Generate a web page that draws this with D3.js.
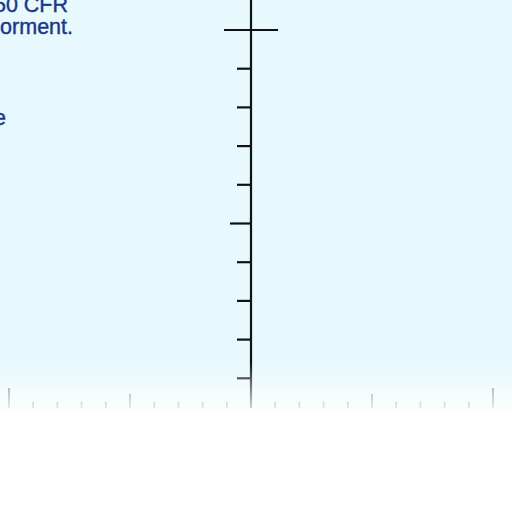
<!DOCTYPE html>
<html><head><meta charset="utf-8">
<script src="https://cdn.jsdelivr.net/npm/d3@7"></script>
<style>html,body{margin:0;padding:0;background:#fff;overflow:hidden}svg{display:block}</style>
</head><body>
<script>
// Data
const yTicks = [1,2,3,4,5,6,7,8,9,10];
const xTicks = d3.range(-10, 11);
const textLines = [
  {text: "50 CFR", right: 68, base: 12},
  {text: "orment.", right: 73, base: 34},
  {text: "e", right: 6, base: 125}
];

const W = 512, H = 512;
const svg = d3.select("body").append("svg").attr("width", W).attr("height", H);

const defs = svg.append("defs");
const fade = defs.append("linearGradient").attr("id","fade").attr("x1",0).attr("x2",0).attr("y1",0).attr("y2",1);
fade.append("stop").attr("offset","0%").attr("stop-color","#fff").attr("stop-opacity",0);
fade.append("stop").attr("offset","100%").attr("stop-color","#fff").attr("stop-opacity",0.85);

svg.append("rect").attr("width",W).attr("height",410).attr("fill","#e7f9fd");

const x = d3.scaleLinear().domain([-10,10]).range([9,493]);
const y = d3.scaleLinear().domain([0,10]).range([417,30]);
const x0 = x(0), axisBottom = 408;

// x ticks
svg.append("g").selectAll("line").data(xTicks).join("line")
  .attr("x1", d=>x(d)).attr("x2", d=>x(d))
  .attr("y1", d=> d%10===0 ? 388 : (d%5===0 ? 394 : 402))
  .attr("y2", axisBottom)
  .attr("stroke", "#666").attr("stroke-width", 1.6);

// y axis line
svg.append("line").attr("x1",x0).attr("x2",x0).attr("y1",0).attr("y2",axisBottom)
  .attr("stroke","#111").attr("stroke-width",2.2);

// y ticks
svg.append("g").selectAll("line").data(yTicks).join("line")
  .attr("x1", d=> d===10 ? x0-27 : (d%5===0 ? x0-21 : x0-14))
  .attr("x2", d=> d===10 ? x0+27 : x0)
  .attr("y1", d=>y(d)).attr("y2", d=>y(d))
  .attr("stroke","#111").attr("stroke-width",2.2);

// bottom fade overlay
svg.append("rect").attr("x",0).attr("y",362).attr("width",W).attr("height",48).attr("fill","url(#fade)");
svg.append("rect").attr("x",0).attr("y",410).attr("width",W).attr("height",H-410).attr("fill","#fff");

// text
svg.append("g").selectAll("text").data(textLines).join("text")
  .attr("x", d=>d.right).attr("y", d=>d.base)
  .attr("text-anchor","end")
  .attr("font-family","Liberation Sans, Arial, sans-serif")
  .attr("font-size",21.5)
  .attr("fill","#1b3787")
  .attr("stroke","#1b3787").attr("stroke-width",0.4)
  .text(d=>d.text);
</script>
</body></html>
